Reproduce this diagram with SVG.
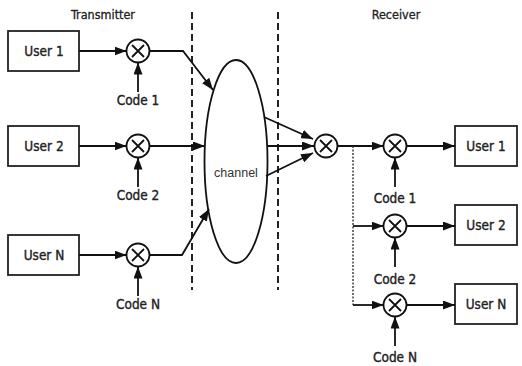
<svg xmlns="http://www.w3.org/2000/svg" width="522" height="366" viewBox="0 0 522 366">
<style>
.box{fill:#fff;stroke:#222;stroke-width:1.8}
.mix{fill:#fff;stroke:#111;stroke-width:1.8}
.x{stroke:#111;stroke-width:1.8;fill:none}
.ln{stroke:#111;stroke-width:1.8;fill:none}
.dash{stroke:#222;stroke-width:2;stroke-dasharray:7 4;fill:none}
.dot{stroke:#333;stroke-width:1.4;stroke-dasharray:2 1.5;fill:none}
.t{font-family:"DejaVu Sans Condensed","DejaVu Sans","Liberation Sans",sans-serif;font-stretch:condensed;font-size:13.5px;fill:#222;stroke:#222;stroke-width:0.35;text-anchor:middle}
.h{font-family:"DejaVu Sans Condensed","DejaVu Sans","Liberation Sans",sans-serif;font-stretch:condensed;font-size:12.5px;fill:#222;stroke:#222;stroke-width:0.3;text-anchor:middle}
.c{font-family:"Liberation Sans",Arial,sans-serif;font-size:12.5px;fill:#333;text-anchor:middle}
</style>
<defs>
<marker id="ah" markerUnits="userSpaceOnUse" markerWidth="12" markerHeight="9" refX="12" refY="4.5" orient="auto">
<path d="M0,0 L12,4.5 L0,9 z" fill="#111"/>
</marker>
<g id="mx">
<circle r="11.5" class="mix"/>
<path d="M-6,-6 L6,6 M6,-6 L-6,6" class="x"/>
</g>
</defs>

<text class="h" x="103" y="19">Transmitter</text>
<text class="h" x="396" y="19">Receiver</text>

<line class="dash" x1="192" y1="12" x2="192" y2="290"/>
<line class="dash" x1="278" y1="12" x2="278" y2="290"/>

<g id="tx-user1"><rect class="box" x="8" y="31" width="71" height="40"/><text class="t" x="44" y="56">User 1</text></g>
<g id="tx-user2"><rect class="box" x="8" y="126" width="71" height="40"/><text class="t" x="44" y="151">User 2</text></g>
<g id="tx-userN"><rect class="box" x="8" y="235" width="71" height="40"/><text class="t" x="44" y="260">User N</text></g>

<g id="tx-mix1"><use href="#mx" x="138" y="51"/></g>
<g id="tx-mix2"><use href="#mx" x="138" y="146"/></g>
<g id="tx-mixN"><use href="#mx" x="138" y="255"/></g>

<g id="tx-code1"><text class="t" x="138" y="105">Code 1</text></g>
<g id="tx-code2"><text class="t" x="138" y="200">Code 2</text></g>
<g id="tx-codeN"><text class="t" x="138" y="309">Code N</text></g>

<g id="channel"><ellipse cx="236" cy="161.5" rx="31.5" ry="101.5" fill="#fff" stroke="#111" stroke-width="1.8"/><text class="c" x="236" y="177">channel</text></g>

<g id="rx-mix0"><use href="#mx" x="326" y="146"/></g>
<g id="rx-mix1"><use href="#mx" x="395" y="146"/></g>
<g id="rx-mix2"><use href="#mx" x="395" y="226"/></g>
<g id="rx-mixN"><use href="#mx" x="395" y="305"/></g>

<g id="rx-code1"><text class="t" x="395" y="203">Code 1</text></g>
<g id="rx-code2"><text class="t" x="395" y="284">Code 2</text></g>
<g id="rx-codeN"><text class="t" x="395" y="362">Code N</text></g>

<g id="rx-user1"><rect class="box" x="455" y="126" width="62" height="40"/><text class="t" x="486" y="151">User 1</text></g>
<g id="rx-user2"><rect class="box" x="455" y="205" width="62" height="40"/><text class="t" x="486" y="230">User 2</text></g>
<g id="rx-userN"><rect class="box" x="455" y="284" width="62" height="40"/><text class="t" x="486" y="309">User N</text></g>

<g id="connectors">
<line class="ln" x1="79" y1="51" x2="126.5" y2="51" marker-end="url(#ah)"/>
<line class="ln" x1="79" y1="146" x2="126.5" y2="146" marker-end="url(#ah)"/>
<line class="ln" x1="79" y1="255" x2="126.5" y2="255" marker-end="url(#ah)"/>
<line class="ln" x1="138" y1="92" x2="138" y2="62.5" marker-end="url(#ah)"/>
<line class="ln" x1="138" y1="187" x2="138" y2="157.5" marker-end="url(#ah)"/>
<line class="ln" x1="138" y1="296" x2="138" y2="266.5" marker-end="url(#ah)"/>
<polyline class="ln" points="149.5,51 183,51 213,90" marker-end="url(#ah)"/>
<line class="ln" x1="149.5" y1="146" x2="205" y2="146" marker-end="url(#ah)"/>
<polyline class="ln" points="149.5,255 182,255 209,209" marker-end="url(#ah)"/>

<line class="ln" x1="264" y1="117" x2="313" y2="139" marker-end="url(#ah)"/>
<line class="ln" x1="267.5" y1="146" x2="314" y2="146" marker-end="url(#ah)"/>
<line class="ln" x1="266" y1="176" x2="313" y2="153" marker-end="url(#ah)"/>

<line class="ln" x1="337.5" y1="146" x2="383.5" y2="146" marker-end="url(#ah)"/>
<line class="dot" x1="353" y1="146" x2="353" y2="305"/>
<line class="ln" x1="353" y1="226" x2="383.5" y2="226" marker-end="url(#ah)"/>
<line class="ln" x1="353" y1="305" x2="383.5" y2="305" marker-end="url(#ah)"/>
<line class="ln" x1="406.5" y1="146" x2="455" y2="146" marker-end="url(#ah)"/>
<line class="ln" x1="406.5" y1="226" x2="455" y2="226" marker-end="url(#ah)"/>
<line class="ln" x1="406.5" y1="305" x2="455" y2="305" marker-end="url(#ah)"/>
<line class="ln" x1="395" y1="187" x2="395" y2="157.5" marker-end="url(#ah)"/>
<line class="ln" x1="395" y1="267" x2="395" y2="237.5" marker-end="url(#ah)"/>
<line class="ln" x1="395" y1="346" x2="395" y2="316.5" marker-end="url(#ah)"/>
</g>
</svg>
